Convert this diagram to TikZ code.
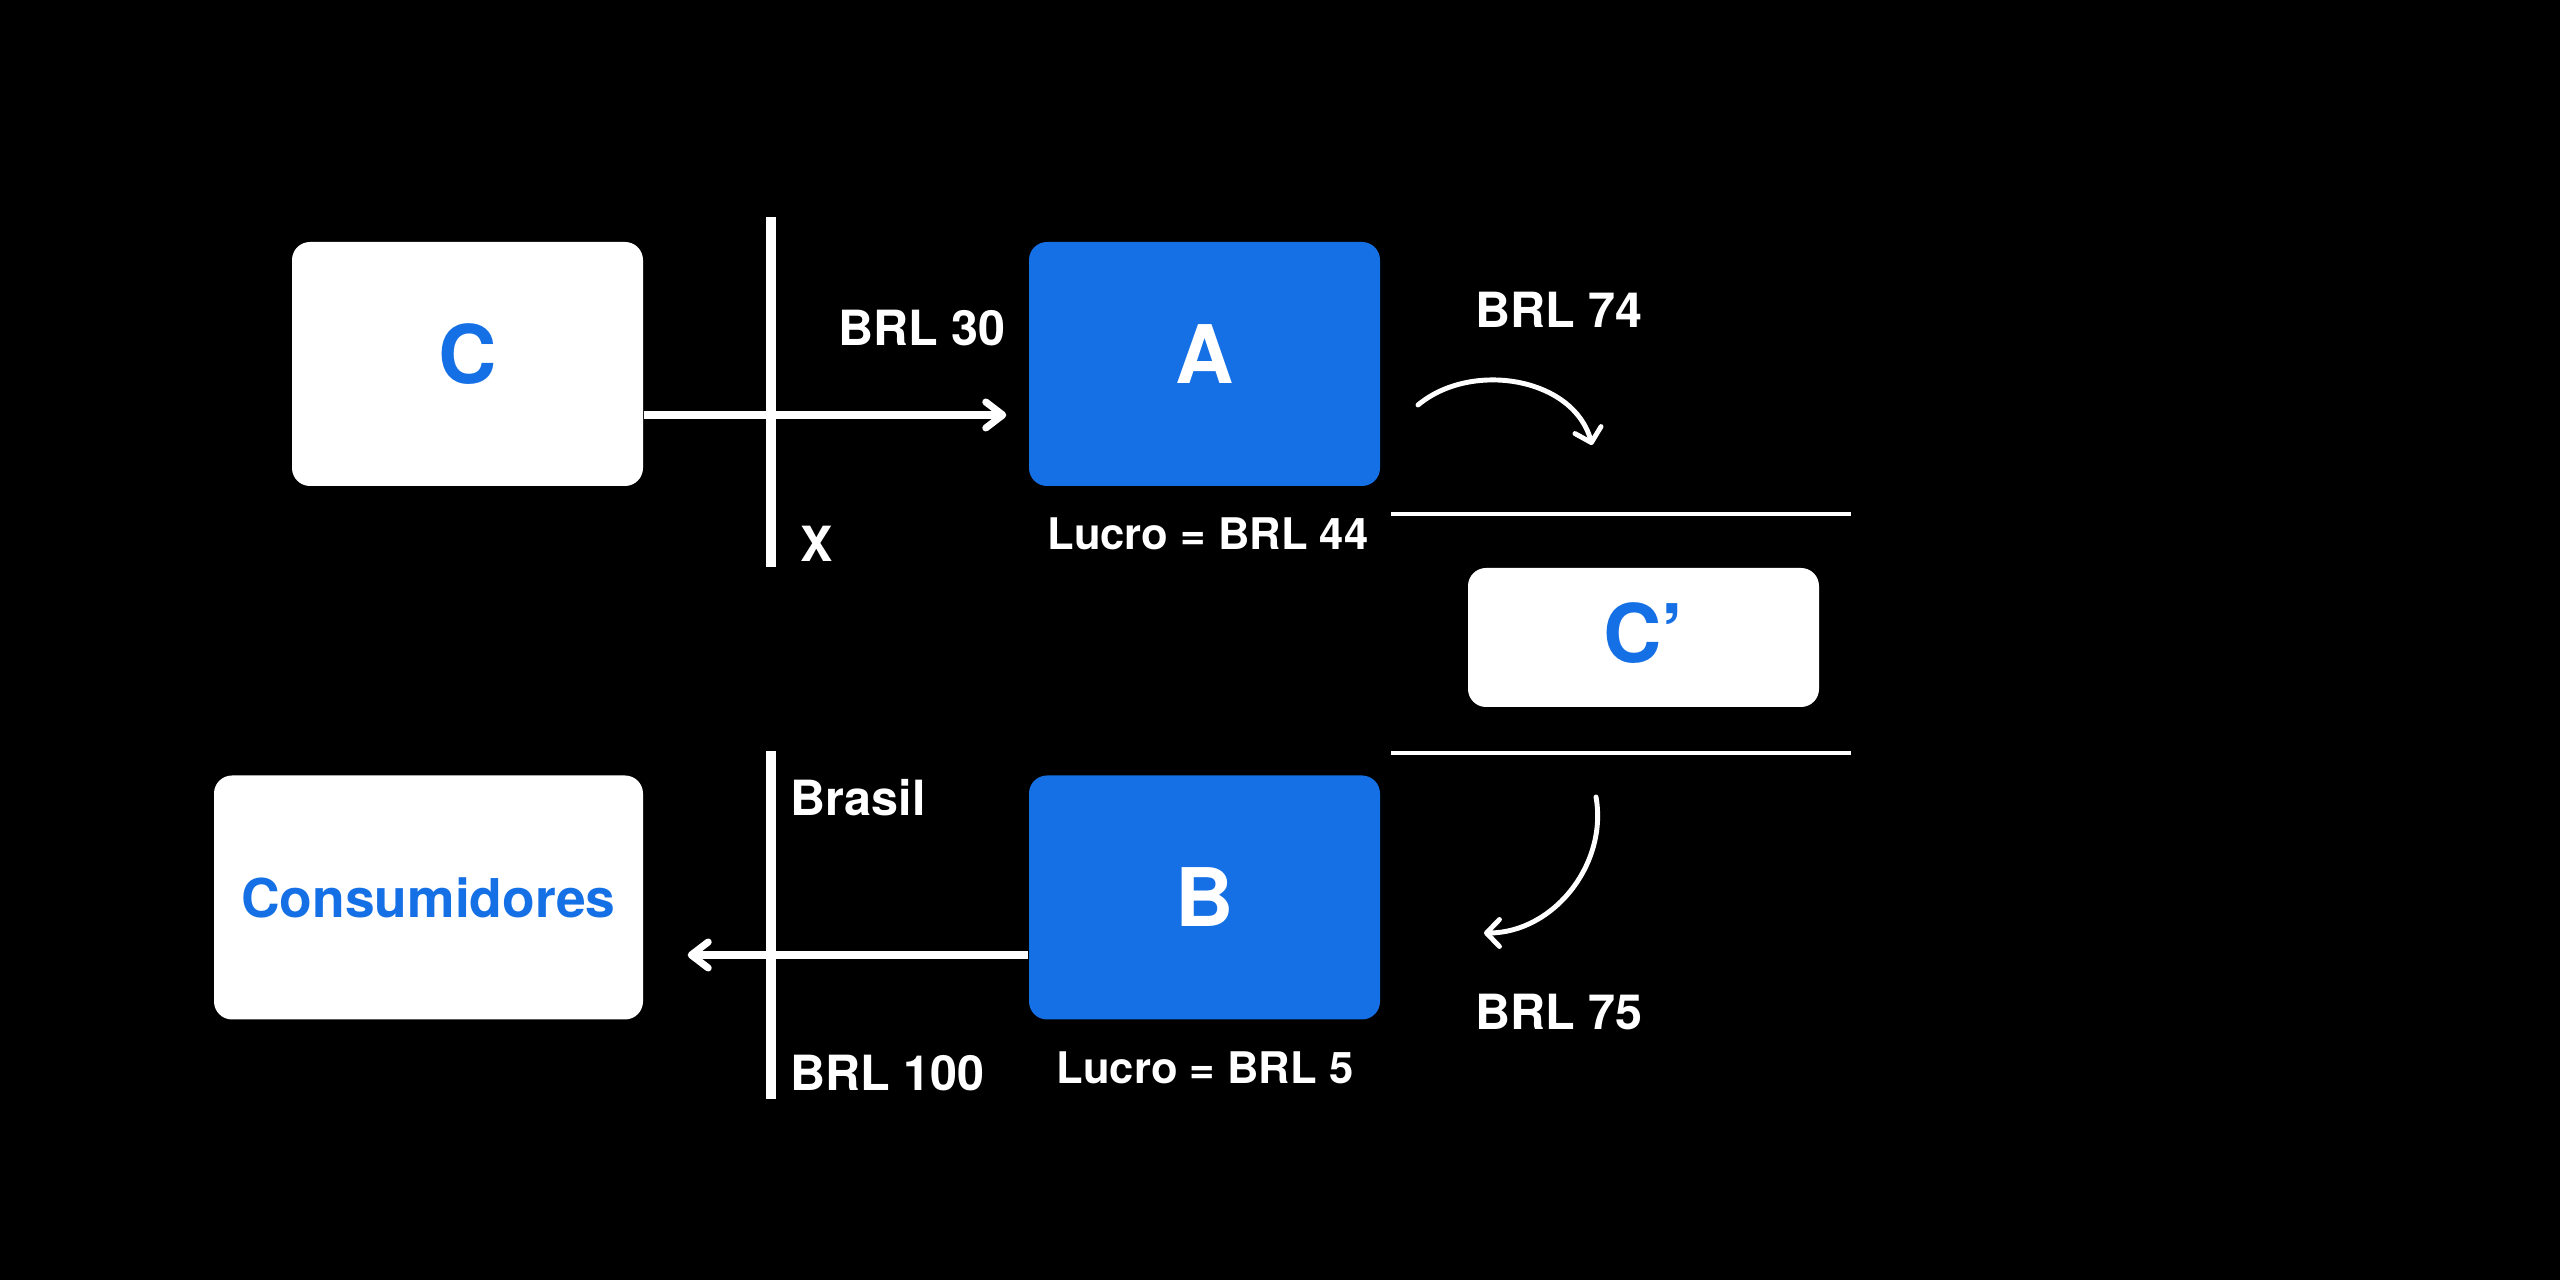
\documentclass[tikz,border=0pt]{standalone}
\usepackage{fontspec}
\setmainfont{TeX Gyre Heros}
\usepackage{xcolor}
\usetikzlibrary{arrows.meta}
\usetikzlibrary{positioning}
\definecolor{boxBlue}{RGB}{21,112,230}

\begin{document}
\begin{tikzpicture}[
		box/.style={rectangle, rounded corners=0.18cm, minimum width=3.51cm, minimum height=2.44cm, inner sep=0pt},
		whitebox/.style={box, fill=white, text=boxBlue},
		bluebox/.style={box, fill=boxBlue, text=white},
		bigletter/.style={font=\fontsize{23}{26}\selectfont\bfseries},
		label/.style={text=white, font=\fontsize{13.8}{16}\selectfont\bfseries, inner sep=0pt},
		profit/.style={label, font=\fontsize{12.4}{15}\selectfont\bfseries},
		flow/.style={white, line width=2pt, -{Straight Barb[length=0.17cm, width=0.26cm, round]}},
		curvy/.style={white, line width=1.4pt, line cap=round, -{Straight Barb[length=0.13cm, width=0.27cm, round]}},
		border/.style={white, line width=2.8pt},
		divider/.style={white, line width=1.1pt}]
		\fill[black] (0,0) rectangle (25.6,-12.8);
		\useasboundingbox (0,0) rectangle (25.6,-12.8);
		% boxes
		\node [whitebox, bigletter, text depth=0.2cm] (C) at (4.675,-3.64) {C};
		\node [bluebox, bigletter, text depth=0.2cm] (A) at (12.045,-3.64) {A};
		\node [bluebox, bigletter] (B) at (12.045,-8.975) {B};
		\node [whitebox, minimum width=4.29cm, font=\fontsize{15.2}{18}\selectfont\bfseries] (cons) at (4.285,-8.975) {Consumidores};
		\node [whitebox, bigletter, minimum height=1.39cm, text depth=0.1cm] (Cp) at (16.435,-6.375) {C’};
		% borders
		\coordinate (topU) at (7.71,-2.17);
		\coordinate (topD) at (7.71,-5.67);
		\coordinate (botU) at (7.71,-7.51);
		\coordinate (botD) at (7.71,-10.99);
		\draw [border] (topU) -- (topD);
		\draw [border] (botU) -- (botD);
		% dividers round C'
		\coordinate (divAL) at (13.91,-5.14);
		\coordinate (divAR) at (18.51,-5.14);
		\coordinate (divBL) at (13.91,-7.53);
		\coordinate (divBR) at (18.51,-7.53);
		\draw [divider] (divAL) -- (divAR);
		\draw [divider] (divBL) -- (divBR);
		% flows
		\draw [flow, shorten >=0.22cm] ([yshift=-0.51cm]C.east) -- ([yshift=-0.51cm]A.west);
		\draw [flow, shorten >=0.44cm] ([yshift=-0.575cm]B.west) -- ([yshift=-0.575cm]cons.east);
		\coordinate (upS) at (14.18,-4.05);
		\coordinate (upE) at (15.92,-4.45);
		\coordinate (loS) at (15.96,-7.97);
		\coordinate (loE) at (14.84,-9.33);
		\draw [curvy] (upS) to[out=40, in=105] (upE);
		\draw [curvy] (loS) to[out=-80, in=0] (loE);
		% labels
		\node [label, anchor=east] (p30) at (10.06,-3.28) {BRL 30};
		\node [label, anchor=west] (x) at (8.0,-5.44) {X};
		\node [profit] (lucroA) at (12.08,-5.34) {Lucro = BRL 44};
		\node [label] (p74) at (15.59,-3.1) {BRL 74};
		\node [label, anchor=west] (brasil) at (7.9,-7.98) {Brasil};
		\node [label, anchor=west] (p100) at (7.9,-10.73) {BRL 100};
		\node [profit] (lucroB) at (12.05,-10.68) {Lucro = BRL 5};
		\node [label] (p75) at (15.59,-10.12) {BRL 75};
	\end{tikzpicture}
\end{document}
